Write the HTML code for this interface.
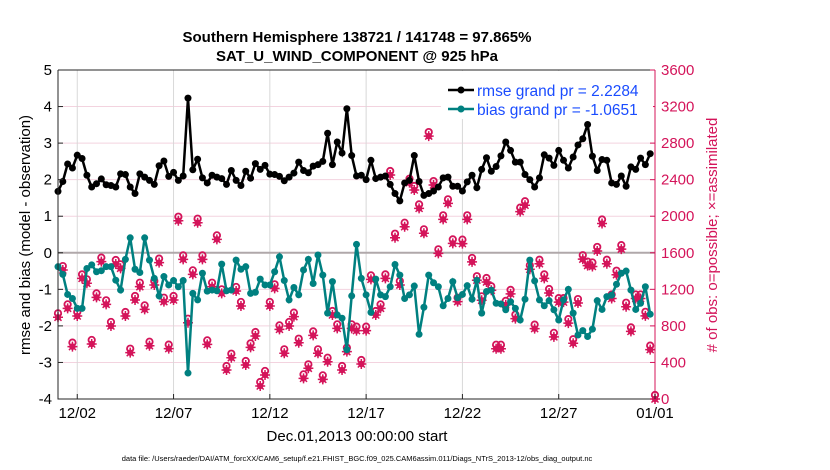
<!DOCTYPE html>
<html><head><meta charset="utf-8"><style>
body{margin:0;background:#fff;}
svg{display:block;font-family:"Liberation Sans",sans-serif;}
</style></head><body>
<svg id="chart" width="830" height="470" viewBox="0 0 830 470" xmlns="http://www.w3.org/2000/svg">
<text x="357" y="42" text-anchor="middle" font-size="15" font-weight="bold">Southern Hemisphere 138721 / 141748 = 97.865%</text>
<text x="357" y="61" text-anchor="middle" font-size="15" font-weight="bold">SAT_U_WIND_COMPONENT @ 925 hPa</text>
<g id="grid"></g>
<g id="marks"></g>
<g id="axes"></g>
<text transform="translate(30,235) rotate(-90)" text-anchor="middle" font-size="15">rmse and bias (model - observation)</text>
<text transform="translate(717,235) rotate(-90)" text-anchor="middle" font-size="15" fill="#d4145a"># of obs: o=possible; ×=assimilated</text>
<text x="357" y="441" text-anchor="middle" font-size="15">Dec.01,2013 00:00:00 start</text>
<text x="357" y="461" text-anchor="middle" font-size="7.5">data file: /Users/raeder/DAI/ATM_forcXX/CAM6_setup/f.e21.FHIST_BGC.f09_025.CAM6assim.011/Diags_NTrS_2013-12/obs_diag_output.nc</text>
<g>
<rect x="441" y="71" width="212" height="48" fill="#fff"/>
<line x1="448" y1="90" x2="474" y2="90" stroke="#000" stroke-width="2.5"/><circle cx="461" cy="90" r="3.5" fill="#000"/>
<text x="477" y="96" font-size="15.5" fill="#1a4cff">rmse grand pr = 2.2284</text>
<line x1="448" y1="109" x2="474" y2="109" stroke="#008080" stroke-width="2.5"/><circle cx="461" cy="109" r="3.5" fill="#008080"/>
<text x="477" y="115" font-size="15.5" fill="#1a4cff">bias grand pr = -1.0651</text>
</g>
</svg>
<script>
const rmse=[1.68,1.95,2.43,2.32,2.67,2.58,2.12,1.80,1.89,2.02,1.86,1.84,1.80,2.16,2.14,1.80,1.62,2.16,2.07,1.98,1.87,2.38,2.51,2.09,2.2,1.98,2.1,4.23,2.27,2.56,2.05,1.91,2.12,2.07,2.03,1.87,2.25,1.98,1.84,2.23,2.04,2.44,2.28,2.39,2.15,2.14,2.09,1.97,2.07,2.18,2.48,2.25,2.19,2.37,2.41,2.5,3.27,2.41,3.03,2.73,3.94,2.66,2.1,2.12,2.0,2.53,2.03,2.07,2.1,1.87,1.62,1.42,1.91,1.98,2.66,1.95,1.57,1.62,1.69,1.8,2.05,2.07,1.82,1.82,1.69,1.94,2.12,1.78,2.28,2.6,2.23,2.36,2.65,3.03,2.8,2.48,2.48,2.14,2.0,1.8,2.05,2.68,2.59,2.39,2.8,2.53,2.32,2.62,2.95,3.12,3.51,2.64,2.25,2.55,2.53,1.91,1.87,2.1,1.82,2.35,2.28,2.59,2.41,2.71];
const bias=[-0.38,-0.59,-1.14,-1.25,-1.52,-1.52,-0.43,-0.33,-0.52,-0.49,-0.38,-0.38,-0.75,-1.02,-0.18,0.41,-0.45,-0.54,0.41,-0.2,-0.7,-1.18,-0.65,-0.88,-0.76,-0.93,-0.76,-3.29,-1.11,-1.29,-0.56,-1.05,-1.02,-1.04,-0.31,-1.04,-1.02,-0.2,-0.45,-0.38,-1.11,-1.08,-0.72,-0.88,-0.88,-0.52,-0.11,-0.76,-1.29,-0.95,-1.15,-0.47,-0.18,-0.84,-0.06,-0.61,-1.65,-0.79,-1.7,-1.79,-2.65,-1.18,0.23,-0.7,-1.15,-1.63,-0.72,-1.15,-1.2,-0.93,-0.32,-0.61,-1.25,-1.15,-0.91,-2.23,-1.49,-0.61,-0.82,-0.93,-1.45,-1.25,-0.79,-1.23,-1.14,-0.9,-1.27,-0.75,-1.65,-1.06,-1.02,-1.38,-1.4,-1.56,-1.34,-1.52,-1.84,-1.27,-0.2,-0.77,-1.29,-1.45,-1.31,-1.56,-1.84,-1.29,-1.0,-1.65,-2.25,-2.13,-2.29,-2.09,-1.31,-1.55,-1.2,-1.16,-0.86,-0.56,-0.5,-1.02,-1.55,-1.38,-0.93,-1.68];
const nobs=[894,1411,992,573,908,1320,1266,602,1112,1503,1036,799,1477,1430,908,507,1083,1229,981,583,1247,1492,1065,551,1083,1951,1528,835,1364,1929,1528,598,1229,1747,1156,317,452,1182,1018,372,565,689,142,263,1018,1211,762,500,799,901,616,226,336,696,500,215,408,919,773,317,518,773,748,383,748,1309,919,992,1320,2451,1765,1247,1885,2367,2287,2086,1813,2877,2341,1594,1966,2141,1703,1065,1700,1966,1500,1300,1080,1280,1190,550,550,1030,1150,880,2050,2120,1420,770,1480,1320,1160,680,1060,1060,830,610,1050,1530,1460,1450,1620,1920,1480,1100,1360,1640,1010,740,1100,1100,910,540,0];
const leftTicks=[5,4,3,2,1,0,-1,-2,-3,-4];
const rightTicks=[0,400,800,1200,1600,2000,2400,2800,3200,3600];
const xTickLabels=["12/02","12/07","12/12","12/17","12/22","12/27","01/01"];
const xTickDays=[1,6,11,16,21,26,31];
const X0=58,X1=655,Y0=70,Y1=399;
const NS="http://www.w3.org/2000/svg";
const xs=d=>X0+d/31*(X1-X0);
const yl=v=>Y1-(v+4)/9*(Y1-Y0);
const yr=v=>Y1-v/3600*(Y1-Y0);
function mk(tag,attrs,parent){const e=document.createElementNS(NS,tag);for(const k in attrs)e.setAttribute(k,attrs[k]);parent.appendChild(e);return e;}
const grid=document.getElementById('grid'),marks=document.getElementById('marks'),axes=document.getElementById('axes');
leftTicks.forEach(v=>{if(v===0||v===5||v===-4)return;const l=mk('line',{x1:X0,x2:X1,y1:yl(v),y2:yl(v),stroke:'#f3d3df','stroke-width':1},grid);

});
xTickDays.forEach(d=>{const l=mk('line',{x1:xs(d),x2:xs(d),y1:Y0,y2:Y1,stroke:'#d8d8d8','stroke-width':1},grid);

});
const zl=mk('line',{x1:X0,x2:X1,y1:yl(0),y2:yl(0),stroke:'#b0a8aa','stroke-width':2},grid);


// obs markers
nobs.forEach((v,i)=>{const x=xs(i*0.25),y=yr(v);const g=mk('g',{},marks);


mk('circle',{cx:x,cy:y-4,r:3.2,fill:'none',stroke:'#d4145a','stroke-width':1.8},g);
mk('circle',{cx:x,cy:y,r:3.2,fill:'#d4145a'},g);
mk('path',{d:`M${x-5},${y}H${x+5}M${x},${y-5}V${y+5}M${x-3.5},${y-3.5}L${x+3.5},${y+3.5}M${x-3.5},${y+3.5}L${x+3.5},${y-3.5}`,stroke:'#d4145a','stroke-width':1.5},g);});
function series(arr,col,name){const p=mk('polyline',{points:arr.map((v,i)=>xs(i*0.25)+','+yl(v)).join(' '),fill:'none',stroke:col,'stroke-width':2.5},marks);


arr.forEach((v,i)=>{const c=mk('circle',{cx:xs(i*0.25),cy:yl(v),r:3.5,fill:col},marks);

});}
series(bias,'#008080','bias');
series(rmse,'#000','rmse');
// axes
const fr=mk('path',{d:`M${X0},${Y0}H${X1}M${X0},${Y0}V${Y1}H${X1}`,stroke:'#262626','stroke-width':1,fill:'none'},axes);


const ra=mk('line',{x1:X1,x2:X1,y1:Y0,y2:Y1,stroke:'#d4145a','stroke-width':1},axes);


leftTicks.forEach(v=>{mk('line',{x1:X0,x2:X0+5,y1:yl(v),y2:yl(v),stroke:'#262626'},axes);
const t=mk('text',{x:X0-6,y:yl(v)+5,'text-anchor':'end','font-size':15},axes);t.textContent=v;

});
rightTicks.forEach(v=>{mk('line',{x1:X1,x2:X1-5,y1:yr(v),y2:yr(v),stroke:'#d4145a'},axes);
const t=mk('text',{x:X1+6,y:yr(v)+5,'font-size':15,fill:'#d4145a'},axes);t.textContent=v;

});
xTickDays.forEach((d,i)=>{mk('line',{x1:xs(d),x2:xs(d),y1:Y1,y2:Y1-5,stroke:'#262626'},axes);
const t=mk('text',{x:xs(d),y:418,'text-anchor':'middle','font-size':15},axes);t.textContent=xTickLabels[i];

});
</script>
</body></html>
